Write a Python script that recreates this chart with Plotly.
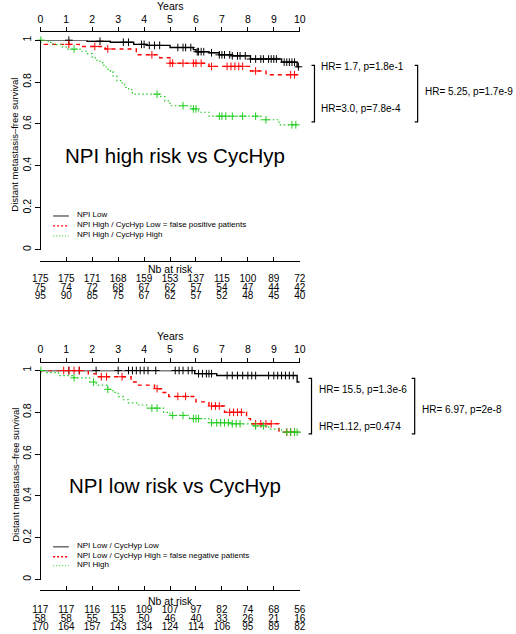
import plotly.graph_objects as go

W, H = 516, 634
FONT = "Liberation Sans, Arial, Helvetica, sans-serif"

years = list(range(11))
year_labels = [str(v) for v in years]
ytick_vals = [0, 0.2, 0.4, 0.6, 0.8, 1]
ytick_text = ["0", "0.2", "0.4", "0.6", "0.8", "1"]

# ---------------- Top panel: NPI high risk vs CycHyp ----------------
top_title = "NPI high risk vs CycHyp"
top_legend = ["NPI Low", "NPI High / CycHyp Low = false positive patients", "NPI High / CycHyp High"]

top_low_t = [0, 1.8, 2.7, 3.6, 4.1, 5.0, 5.9, 6.0, 6.5, 6.9, 7.4, 8.1, 9.3, 9.9, 10.0]
top_low_s = [1, 0.995, 0.99, 0.98, 0.975, 0.965, 0.955, 0.945, 0.94, 0.93, 0.925, 0.91, 0.895, 0.873, 0.873]
top_low_cens = [1.1, 2.3, 3.2, 3.4, 3.9, 4.0, 4.2, 4.4, 4.6, 5.3, 5.5, 5.6, 5.8, 6.05, 6.1, 6.2, 6.3,
                6.6, 6.9, 7.0, 7.1, 7.3, 7.4, 7.6, 7.7, 7.9, 8.1, 8.3, 8.5, 8.6, 8.8, 8.9, 9.0, 9.1,
                9.4, 9.5, 9.6, 9.7, 9.8, 9.95]

top_fp_t = [0, 0.15, 1.5, 2.5, 3.7, 4.6, 5.0, 6.5, 8.1, 8.7, 10.0]
top_fp_s = [1, 0.98, 0.97, 0.958, 0.93, 0.916, 0.89, 0.875, 0.853, 0.835, 0.835]
top_fp_cens = [1.1, 2.1, 2.6, 4.3, 5.0, 5.1, 5.5, 5.9, 6.0, 6.2, 6.6, 7.2, 7.35, 7.5, 7.65, 7.8,
               8.3, 9.65, 9.8]

top_hh_t = [0, 0.3, 0.5, 0.8, 1.0, 1.6, 1.8, 2.0, 2.15, 2.3, 2.45, 2.6, 2.7, 2.8, 2.95, 3.1, 3.25,
            3.4, 3.55, 4.6, 4.8, 5.0, 5.8, 6.1, 6.5, 8.5, 9.2, 10.0]
top_hh_s = [1, 0.989, 0.979, 0.968, 0.957, 0.947, 0.936, 0.915, 0.904, 0.893, 0.872, 0.861, 0.85,
            0.829, 0.807, 0.796, 0.775, 0.764, 0.742, 0.731, 0.71, 0.687, 0.672, 0.656, 0.637,
            0.62, 0.596, 0.596]
top_hh_cens = [0.02, 1.3, 4.5, 5.5, 5.9, 6.0, 6.9, 7.0, 7.15, 7.4, 7.8, 8.3, 8.7, 9.7, 9.85]

top_risk_low = [175, 175, 171, 168, 159, 153, 137, 115, 100, 89, 72]
top_risk_fp = [75, 74, 72, 68, 67, 62, 57, 54, 47, 44, 42]
top_risk_hh = [95, 90, 85, 75, 67, 62, 57, 52, 48, 45, 40]

top_hr = ["HR= 1.7, p=1.8e-1", "HR=3.0, p=7.8e-4", "HR= 5.25, p=1.7e-9"]

# ---------------- Bottom panel: NPI low risk vs CycHyp ----------------
bot_title = "NPI low risk vs CycHyp"
bot_legend = ["NPI Low / CycHyp Low", "NPI Low / CycHyp High = false negative patients", "NPI High"]

bot_ll_t = [0, 5.95, 6.8, 9.9, 10.0]
bot_ll_s = [1, 0.985, 0.976, 0.945, 0.945]
bot_ll_cens = [1.1, 1.5, 2.15, 3.0, 3.4, 3.55, 3.7, 3.85, 4.0, 4.15, 4.45, 5.2, 5.35, 5.5, 5.7, 5.85,
               6.1, 6.25, 6.4, 6.5, 6.6, 7.2, 7.4, 7.6, 7.8, 8.0, 8.15, 8.3, 8.8, 9.0, 9.15, 9.3,
               9.45, 9.6, 9.75]

bot_fn_t = [0, 1.85, 2.2, 3.5, 3.75, 4.4, 4.7, 4.95, 6.0, 6.5, 7.1, 7.95, 8.1, 9.2, 10.0]
bot_fn_s = [1, 0.984, 0.97, 0.945, 0.93, 0.913, 0.895, 0.876, 0.85, 0.83, 0.80, 0.77, 0.745, 0.705, 0.705]
bot_fn_cens = [0.9, 1.1, 1.3, 1.5, 2.35, 2.55, 3.15, 4.5, 5.3, 5.6, 6.6, 6.75, 6.9, 7.3, 7.45, 7.6,
               7.75, 8.3, 8.5, 8.7, 8.9, 9.5, 9.65, 9.8]

bot_hi_t = [0, 0.25, 0.7, 1.3, 1.9, 2.15, 2.6, 2.8, 3.0, 3.2, 3.4, 3.75, 4.1, 4.75, 5.0, 5.75, 6.5,
            7.3, 8.15, 8.8, 9.3, 10.0]
bot_hi_s = [1, 0.99, 0.976, 0.965, 0.945, 0.93, 0.91, 0.895, 0.875, 0.86, 0.845, 0.835, 0.82, 0.8,
            0.785, 0.77, 0.75, 0.745, 0.735, 0.72, 0.705, 0.70]
bot_hi_cens = [0.02, 1.3, 2.05, 2.6, 4.3, 4.5, 5.1, 5.5, 5.9, 6.0, 6.1, 6.6, 6.8, 6.95, 7.1, 7.25,
               7.4, 7.55, 7.7, 8.3, 8.6, 9.5, 9.65, 9.8, 9.9]

bot_risk_ll = [117, 117, 116, 115, 109, 107, 97, 82, 74, 68, 56]
bot_risk_fn = [58, 58, 55, 53, 50, 46, 40, 33, 26, 21, 16]
bot_risk_hi = [170, 164, 157, 143, 134, 124, 114, 106, 95, 89, 82]

bot_hr = ["HR= 15.5, p=1.3e-6", "HR=1.12, p=0.474", "HR= 6.97, p=2e-8"]

# ---------------- styling ----------------
COLORS = ["#000000", "#FF0000", "#22CC22"]
DASHES = ["solid", "4px,4px", "1.5px,2.5px"]
WIDTHS = [1.4, 1.4, 1.2]


def px(x):
    return x / W


def py(y):
    return 1 - y / H


def step_at(t, s, c):
    v = s[0]
    for ti, si in zip(t, s):
        if ti <= c:
            v = si
        else:
            break
    return v


fig = go.Figure()
layout = dict(
    width=W, height=H, autosize=False,
    margin=dict(l=0, r=0, t=0, b=0),
    paper_bgcolor="white", plot_bgcolor="white",
    showlegend=False,
    font=dict(family=FONT, size=10, color="black"),
)
annotations = []
shapes = []

panels = [
    dict(off=0, title=top_title, legend=top_legend,
         curves=[(top_low_t, top_low_s, top_low_cens), (top_fp_t, top_fp_s, top_fp_cens),
                 (top_hh_t, top_hh_s, top_hh_cens)],
         risk=[top_risk_low, top_risk_fp, top_risk_hh], hr=top_hr,
         y1=35.5, y0=247, xtop=26, xbot=258, years_y=4, nb_y=268, rows=(277.3, 294.3),
         leg_y=[213, 223, 233], title_y=157,
         br_top=61, br_bot=118, br1x=317, br2x=422, hr_y=[65.5, 107.5, 90.5], hr_x=[322, 322, 427]),
    dict(off=1, title=bot_title, legend=bot_legend,
         curves=[(bot_ll_t, bot_ll_s, bot_ll_cens), (bot_fn_t, bot_fn_s, bot_fn_cens),
                 (bot_hi_t, bot_hi_s, bot_hi_cens)],
         risk=[bot_risk_ll, bot_risk_fn, bot_risk_hi], hr=bot_hr,
         y1=369, y0=580, xtop=360, xbot=591, years_y=337, nb_y=603, rows=(611.7, 628.3),
         leg_y=[547, 557, 566], title_y=490,
         br_top=377, br_bot=433, br1x=314, br2x=419, hr_y=[391, 428.5, 411.5], hr_x=[320, 320, 424]),
]

X0, X1 = 38, 302
SMALL_SHIFT = 3.0   # visual centre of text sits above its box centre
BIG_SHIFT = 5.0

for p in panels:
    k = p["off"] * 3
    xa, ya = k + 1, k + 1          # survival axes
    xr, yr = k + 3, k + 3          # risk table axes (xr also draws the lower axis line)
    xs = lambda n: "x" if n == 1 else f"x{n}"
    ys = lambda n: "y" if n == 1 else f"y{n}"
    xname = lambda n: "xaxis" if n == 1 else f"xaxis{n}"
    yname = lambda n: "yaxis" if n == 1 else f"yaxis{n}"

    # survival axes
    layout[xname(xa)] = dict(domain=[px(X0), px(X1)], range=[0, 10], side="top",
                             anchor="free", position=py(p["xtop"]),
                             tickvals=years, ticktext=year_labels, ticks="outside", ticklen=4,
                             tickcolor="black", showline=True, linecolor="black", linewidth=1,
                             showgrid=False, zeroline=False, tickfont=dict(size=10.5))
    layout[yname(ya)] = dict(domain=[py(p["y0"]), py(p["y1"])], range=[0, 1],
                             anchor="free", position=px(X0), side="left",
                             tickvals=ytick_vals, ticktext=ytick_text, ticks="outside", ticklen=5,
                             tickcolor="black", showline=True, linecolor="black", linewidth=1,
                             showgrid=False, zeroline=False, tickangle=-90, tickfont=dict(size=10.5))
    # risk table axes; x axis line doubles as the lower time axis
    r1, r3 = p["rows"]
    half = (r3 - r1) / 4.0
    layout[xname(xr)] = dict(domain=[px(X0), px(X1)], range=[0, 10], side="bottom",
                             anchor="free", position=py(p["xbot"]),
                             tickvals=years, ticks="inside", ticklen=4, tickcolor="black",
                             showticklabels=False, showline=True, linecolor="black", linewidth=1,
                             showgrid=False, zeroline=False)
    layout[yname(yr)] = dict(domain=[py(r3 + half), py(r1 - half)], range=[3.5, 0.5],
                             anchor=xs(xr), visible=False, showgrid=False, zeroline=False)

    # curves and censor marks
    for i, (t, s, cens) in enumerate(p["curves"]):
        fig.add_trace(go.Scatter(x=t, y=s, mode="lines", line_shape="hv",
                                 line=dict(color=COLORS[i], dash=DASHES[i], width=WIDTHS[i]),
                                 xaxis=xs(xa), yaxis=ys(ya), cliponaxis=False, hoverinfo="skip"))
        fig.add_trace(go.Scatter(x=cens, y=[step_at(t, s, c) for c in cens], mode="markers",
                                 marker=dict(symbol="cross-thin", size=5.5,
                                             line=dict(color=COLORS[i], width=1)),
                                 xaxis=xs(xa), yaxis=ys(ya), cliponaxis=False, hoverinfo="skip"))

    # number at risk table
    for i, row in enumerate(p["risk"]):
        fig.add_trace(go.Scatter(x=years, y=[i + 1] * len(years), text=[str(v) for v in row],
                                 mode="text", textposition="middle center",
                                 textfont=dict(size=10, color="black", family=FONT),
                                 xaxis=xs(xr), yaxis=ys(yr), cliponaxis=False, hoverinfo="skip"))

    # texts
    annotations.append(dict(text="Years", x=px((X0 + X1) / 2), y=py(p["years_y"] - SMALL_SHIFT),
                            xref="paper", yref="paper", showarrow=False, font=dict(size=10.5),
                            xanchor="center", yanchor="middle"))
    annotations.append(dict(text="Nb at risk", x=px((X0 + X1) / 2), y=py(p["nb_y"] - 1),
                            xref="paper", yref="paper", showarrow=False, font=dict(size=10.5),
                            xanchor="center", yanchor="middle"))
    annotations.append(dict(text="Distant metastasis\u2013free survival", x=px(12),
                            y=py((p["y0"] + p["y1"]) / 2), xref="paper", yref="paper",
                            showarrow=False, textangle=-90, font=dict(size=9.5),
                            xanchor="center", yanchor="middle"))
    annotations.append(dict(text=p["title"], x=px(175), y=py(p["title_y"] - BIG_SHIFT),
                            xref="paper", yref="paper", showarrow=False, font=dict(size=20.5),
                            xanchor="center", yanchor="middle"))

    # legend
    for i, lab in enumerate(p["legend"]):
        yy = py(p["leg_y"][i])
        shapes.append(dict(type="line", xref="paper", yref="paper", x0=px(51), x1=px(67),
                           y0=yy, y1=yy,
                           line=dict(color=["#555555", "#FF0000", "#55DD55"][i],
                                     dash=["solid", "2px,2px", "1px,2px"][i], width=1.3)))
        annotations.append(dict(text=lab, x=px(73), y=py(p["leg_y"][i] - 1.5), xref="paper",
                                yref="paper", showarrow=False, font=dict(size=8), xanchor="left",
                                yanchor="middle"))

    # HR brackets
    for bx in (p["br1x"], p["br2x"]):
        path = (f"M {px(bx - 3)} {py(p['br_top'])} L {px(bx)} {py(p['br_top'])} "
                f"L {px(bx)} {py(p['br_bot'])} L {px(bx - 3)} {py(p['br_bot'])}")
        shapes.append(dict(type="path", xref="paper", yref="paper", path=path,
                           line=dict(color="black", width=1.2)))
    for i, txt in enumerate(p["hr"]):
        annotations.append(dict(text=txt, x=px(p["hr_x"][i]), y=py(p["hr_y"][i] - SMALL_SHIFT),
                                xref="paper", yref="paper", showarrow=False, font=dict(size=10),
                                xanchor="left", yanchor="middle"))

layout["annotations"] = annotations
layout["shapes"] = shapes
fig.update_layout(**layout)
fig.write_html("out.html", config={"displayModeBar": False},
               post_script="document.body.style.margin='0';document.body.style.overflow='hidden';")
